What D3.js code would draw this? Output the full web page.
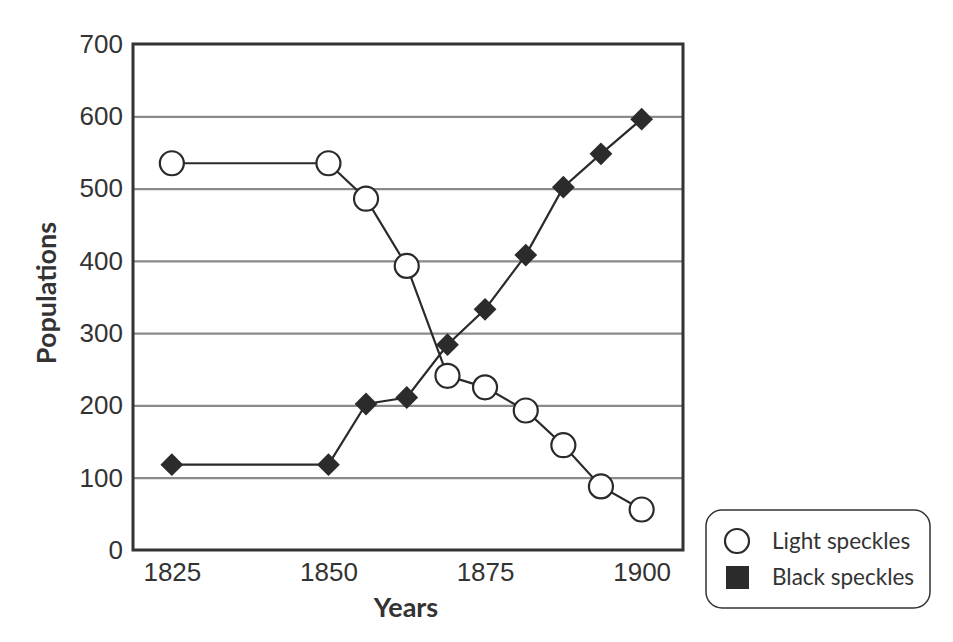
<!DOCTYPE html>
<html>
<head>
<meta charset="utf-8">
<script src="https://cdn.jsdelivr.net/npm/d3@7"></script>
<style>
  body { margin: 0; background: #fff; }
  svg { display: block; font-family: Lato, "Open Sans", sans-serif; }
</style>
</head>
<body>
<div id="chart"></div>
<script>
// data
const years = [1825, 1850, 1856, 1862.5, 1869, 1875, 1881.5, 1887.5, 1893.5, 1900];
const lightSpeckles = [535, 535, 486, 393, 241, 225, 193, 145, 88, 56];
const blackSpeckles = [118, 118, 202, 211, 284, 333, 408, 502, 548, 596];
const xTicks = [1825, 1850, 1875, 1900];
const yTicks = [0, 100, 200, 300, 400, 500, 600, 700];

const width = 953, height = 642;
const margin = { top: 44, right: 270, bottom: 92, left: 133 };
const w = width - margin.left - margin.right;
const h = height - margin.top - margin.bottom;

const svg = d3.select("#chart").append("svg")
  .attr("width", width)
  .attr("height", height);

const g = svg.append("g")
  .attr("transform", `translate(${margin.left},${margin.top})`);

const x = d3.scaleLinear().domain([1818.8, 1906.6]).range([0, w]);
const y = d3.scaleLinear().domain([0, 700]).range([h, 0]);

// gridlines
g.append("g")
  .call(d3.axisLeft(y).tickValues(yTicks.slice(1, -1)).tickSize(-w).tickFormat(""))
  .call(s => s.select(".domain").remove())
  .selectAll("line")
    .attr("stroke", "#8a8a8a")
    .attr("stroke-width", 2.2);

// y tick labels
g.append("g")
  .call(d3.axisLeft(y).tickValues(yTicks).tickSize(0).tickPadding(10))
  .call(s => s.select(".domain").remove())
  .selectAll("text")
    .attr("fill", "#333")
    .style("font-size", "26px");

// x tick labels
g.append("g")
  .attr("transform", `translate(0,${h})`)
  .call(d3.axisBottom(x).tickValues(xTicks).tickFormat(d3.format("d")).tickSize(0).tickPadding(13))
  .call(s => s.select(".domain").remove())
  .selectAll("text")
    .attr("fill", "#333")
    .style("font-size", "26px");

// plot frame
g.append("rect")
  .attr("width", w)
  .attr("height", h)
  .attr("fill", "none")
  .attr("stroke", "#333")
  .attr("stroke-width", 3);

const rows = years.map((yr, i) => ({ year: yr, light: lightSpeckles[i], black: blackSpeckles[i] }));

const line = key => d3.line().x(d => x(d.year)).y(d => y(d[key]));

g.append("path")
  .datum(rows)
  .attr("fill", "none")
  .attr("stroke", "#2a2a2a")
  .attr("stroke-width", 2.2)
  .attr("d", line("light"));

g.append("path")
  .datum(rows)
  .attr("fill", "none")
  .attr("stroke", "#2a2a2a")
  .attr("stroke-width", 2.2)
  .attr("d", line("black"));

// black diamonds
g.selectAll(".diamond")
  .data(rows)
  .enter()
  .append("path")
    .attr("class", "diamond")
    .attr("transform", d => `translate(${x(d.year)},${y(d.black)}) rotate(45)`)
    .attr("d", d3.symbol().type(d3.symbolSquare).size(260))
    .attr("fill", "#2b2b2b");

// light circles
g.selectAll(".light")
  .data(rows)
  .enter()
  .append("circle")
    .attr("class", "light")
    .attr("cx", d => x(d.year))
    .attr("cy", d => y(d.light))
    .attr("r", 12)
    .attr("fill", "#fff")
    .attr("stroke", "#2a2a2a")
    .attr("stroke-width", 2.2);

// axis titles
svg.append("text")
  .attr("x", margin.left + w / 2 - 2)
  .attr("y", 617)
  .attr("text-anchor", "middle")
  .attr("fill", "#333")
  .style("font-size", "27px")
  .style("font-weight", "bold")
  .text("Years");

svg.append("text")
  .attr("transform", "rotate(-90)")
  .attr("x", -(margin.top + h / 2) + 4)
  .attr("y", 56)
  .attr("text-anchor", "middle")
  .attr("fill", "#333")
  .style("font-size", "27px")
  .style("font-weight", "bold")
  .text("Populations");

// legend
const legend = svg.append("g").attr("transform", "translate(706,510)");
legend.append("rect")
  .attr("width", 224)
  .attr("height", 98)
  .attr("rx", 16)
  .attr("fill", "#fff")
  .attr("stroke", "#333")
  .attr("stroke-width", 1.5);
legend.append("circle")
  .attr("cx", 31).attr("cy", 31).attr("r", 12)
  .attr("fill", "#fff").attr("stroke", "#2a2a2a").attr("stroke-width", 2.2);
legend.append("rect")
  .attr("x", 20).attr("y", 56).attr("width", 23).attr("height", 23)
  .attr("fill", "#2b2b2b");
legend.selectAll(".lbl")
  .data(["Light speckles", "Black speckles"])
  .enter()
  .append("text")
    .attr("x", 66)
    .attr("y", (d, i) => 31 + i * 36)
    .attr("dy", "0.35em")
    .attr("fill", "#333")
    .style("font-size", "22.5px")
    .text(d => d);
</script>
</body>
</html>
